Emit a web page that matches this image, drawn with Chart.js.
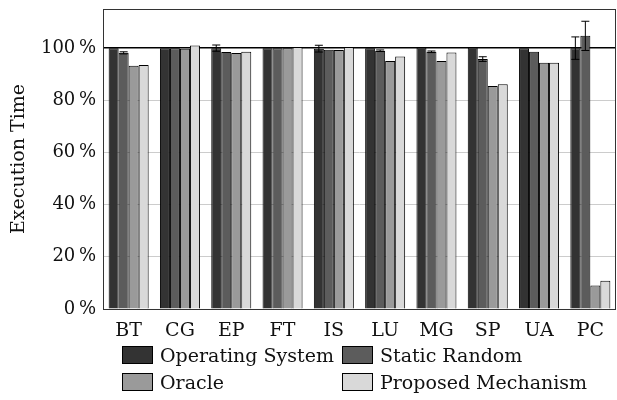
<!DOCTYPE html>
<html>
<head>
<meta charset="utf-8">
<script src="https://cdn.jsdelivr.net/npm/chart.js@4/dist/chart.umd.min.js"></script>
<style>
    html, body { margin: 0; padding: 0; background: #fff; }
    #wrap { position: relative; width: 617px; height: 400px; }
    #legend {
        position: absolute; left: 122px; top: 344px;
        display: grid; grid-template-columns: 220px 260px; row-gap: 6px;
        font-family: "DejaVu Serif", serif; font-size: 19px; color: #111;
    }
    #legend .item { display: flex; align-items: center; height: 21px; white-space: nowrap; }
    #legend .box { width: 29px; height: 16px; border: 1px solid #000; margin-right: 7px; }
</style>
</head>
<body>
<div id="wrap">
    <canvas id="chart" width="617" height="400"></canvas>
    <div id="legend"></div>
</div>
<script>
(function () {
    var categories = ['BT', 'CG', 'EP', 'FT', 'IS', 'LU', 'MG', 'SP', 'UA', 'PC'];
    var seriesNames = ['Operating System', 'Static Random', 'Oracle', 'Proposed Mechanism'];
    var seriesColors = ['#333333', '#5c5c5c', '#9a9a9a', '#d9d9d9'];

    var operatingSystem = [100, 100, 100, 100, 99.8, 100, 100.2, 100.2, 100, 100];
    var staticRandom = [98.2, 100, 98.5, 100, 99.4, 99, 98.6, 95.8, 98.6, 104.7];
    var oracle = [93.2, 99.8, 98.1, 100, 99.3, 95.1, 95.1, 85.5, 94.4, 9.0];
    var proposed = [93.5, 101, 98.6, 100.4, 100.4, 96.8, 98.3, 86.2, 94.4, 10.8];

    // half-width of the error bars, same order as the series
    var osError = [0, 0, 1.2, 0, 1.3, 0, 0, 0, 0, 4.3];
    var srError = [0.4, 0, 0, 0, 0, 0.3, 0.3, 0.9, 0, 5.6];
    var oracleError = [0, 0, 0, 0, 0, 0, 0, 0, 0, 0];
    var proposedError = [0, 0, 0, 0, 0, 0, 0, 0, 0, 0];

    var yTicks = [0, 20, 40, 60, 80, 100];

    var values = [operatingSystem, staticRandom, oracle, proposed];
    var errors = [osError, srError, oracleError, proposedError];
    var font = '"DejaVu Serif", serif';

    var datasets = [];
    for (var i = 0; i < seriesNames.length; i++) {
        datasets.push({
            label: seriesNames[i],
            data: values[i],
            errors: errors[i],
            backgroundColor: seriesColors[i],
            borderColor: '#000',
            borderWidth: 1,
            categoryPercentage: 0.78,
            barPercentage: 1.0
        });
    }

    var errorBars = {
        id: 'errorBars',
        afterDatasetsDraw: function (chart) {
            var ctx = chart.ctx;
            var y = chart.scales.y;
            ctx.save();
            ctx.strokeStyle = '#000';
            ctx.lineWidth = 1;
            chart.data.datasets.forEach(function (ds, di) {
                var meta = chart.getDatasetMeta(di);
                meta.data.forEach(function (bar, j) {
                    var e = ds.errors[j];
                    if (!e) return;
                    var top = y.getPixelForValue(ds.data[j] + e);
                    var bot = y.getPixelForValue(ds.data[j] - e);
                    ctx.beginPath();
                    ctx.moveTo(bar.x, top); ctx.lineTo(bar.x, bot);
                    ctx.moveTo(bar.x - 4, top); ctx.lineTo(bar.x + 4, top);
                    ctx.moveTo(bar.x - 4, bot); ctx.lineTo(bar.x + 4, bot);
                    ctx.stroke();
                });
            });
            ctx.restore();
        }
    };

    var frame = {
        id: 'frame',
        afterDraw: function (chart) {
            var a = chart.chartArea;
            var ctx = chart.ctx;
            ctx.save();
            ctx.strokeStyle = '#333';
            ctx.lineWidth = 1;
            ctx.strokeRect(a.left + 0.5, a.top + 0.5, a.right - a.left - 1, a.bottom - a.top);
            ctx.restore();
        }
    };

    new Chart(document.getElementById('chart'), {
        type: 'bar',
        data: { labels: categories, datasets: datasets },
        options: {
            responsive: false,
            animation: false,
            layout: { padding: { top: 9, right: 1, left: 0, bottom: 0 } },
            plugins: {
                legend: { display: false },
                tooltip: { enabled: false }
            },
            scales: {
                x: {
                    grid: { display: false },
                    border: { display: false },
                    ticks: { color: '#111', font: { family: font, size: 19 }, padding: 3 },
                    afterFit: function (scale) { scale.height = 91; }
                },
                y: {
                    min: 0,
                    max: 115,
                    afterBuildTicks: function (scale) {
                        scale.ticks = yTicks.map(function (v) { return { value: v }; });
                    },
                    afterFit: function (scale) {
                        scale.width = 103;
                        scale.paddingTop = 0;
                        scale.paddingBottom = 0;
                    },
                    grid: {
                        drawTicks: false,
                        color: function (c) { return c.tick && c.tick.value === 100 ? '#000' : '#cccccc'; },
                        lineWidth: function (c) { return c.tick && c.tick.value === 100 ? 1.5 : 1; }
                    },
                    border: { display: false },
                    ticks: {
                        color: '#111',
                        padding: 7,
                        font: { family: font, size: 18 },
                        callback: function (v) { return v + '\u2009%'; }
                    },
                    title: {
                        display: true,
                        text: 'Execution Time',
                        color: '#111',
                        padding: { top: 8, bottom: 4 },
                        font: { family: font, size: 19 }
                    }
                }
            }
        },
        plugins: [errorBars, frame]
    });

    var legend = document.getElementById('legend');
    for (var k = 0; k < seriesNames.length; k++) {
        var item = document.createElement('div');
        item.className = 'item';
        item.innerHTML = '<span class="box" style="background:' + seriesColors[k] + '"></span>' + seriesNames[k];
        legend.appendChild(item);
    }
})();
</script>
</body>
</html>
